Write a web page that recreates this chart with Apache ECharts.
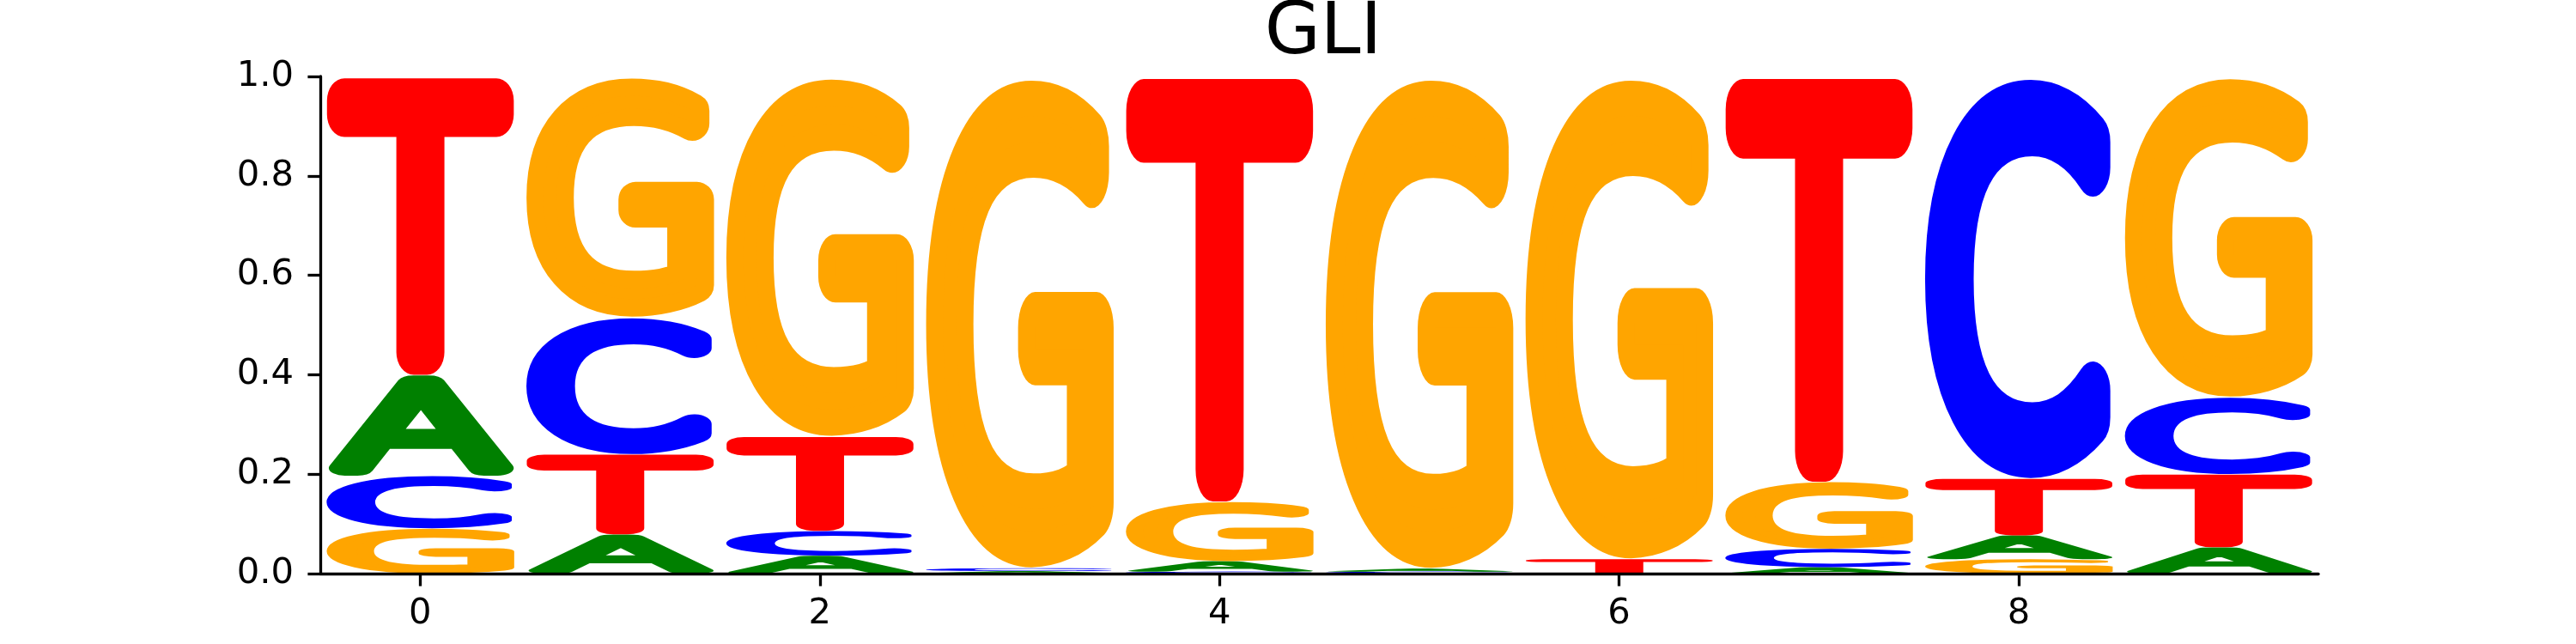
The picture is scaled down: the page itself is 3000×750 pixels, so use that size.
<!DOCTYPE html>
<html>
<head>
<meta charset="utf-8">
<title>GLI</title>
<script src="https://cdn.jsdelivr.net/npm/echarts@6.0.0/dist/echarts.min.js"></script>
<style>
    html, body { margin: 0; padding: 0; background: #fff; }
    #chart { width: 3000px; height: 750px; }
</style>
</head>
<body>
<div id="chart"></div>
<script>
// positions along the motif
var positions = [0, 1, 2, 3, 4, 5, 6, 7, 8, 9];
// letter probabilities per position
var probA = [0.203, 0.079, 0.036, 0.004, 0.021, 0.006, 0.000, 0.013, 0.048, 0.053];
var probC = [0.106, 0.276, 0.050, 0.006, 0.004, 0.003, 0.000, 0.037, 0.809, 0.155];
var probG = [0.091, 0.484, 0.724, 0.989, 0.120, 0.990, 0.971, 0.135, 0.029, 0.645];
var probT = [0.600, 0.161, 0.190, 0.001, 0.855, 0.001, 0.029, 0.815, 0.114, 0.147];
var xTicks = [0, 2, 4, 6, 8];

var letters = ['A', 'C', 'G', 'T'];
var colors = ['#008000', '#0000ff', '#ffa500', '#ff0000'];
var FONT_SIZE = 400;
var FONT = '200 ' + FONT_SIZE + 'px "DejaVu Sans"';
var EDGE = 0.13 * FONT_SIZE; // thick round-joined outline on a thin face

// ink box of every glyph (outline included), relative to a left / middle anchor
var cv = document.createElement('canvas');
var ctx = cv.getContext('2d');
ctx.font = FONT;
ctx.textAlign = 'left';
ctx.textBaseline = 'middle';
var metrics = letters.map(function (l) {
    var m = ctx.measureText(l);
    return {
        left: m.actualBoundingBoxLeft + EDGE / 2,
        asc: m.actualBoundingBoxAscent + EDGE / 2,
        w: m.actualBoundingBoxLeft + m.actualBoundingBoxRight + EDGE,
        h: m.actualBoundingBoxAscent + m.actualBoundingBoxDescent + EDGE
    };
});

// stack letters per position, smallest at the bottom
var probs = [probA, probC, probG, probT];
var stackData = [];
positions.forEach(function (p, i) {
    var order = [0, 1, 2, 3].sort(function (a, b) { return probs[a][i] - probs[b][i]; });
    var base = 0;
    order.forEach(function (li) {
        var v = probs[li][i];
        if (v > 0) stackData.push([p, base, base + v, li]);
        base += v;
    });
});

var option = {
    animation: false,
    title: {
        text: 'GLI',
        left: 1536,
        textAlign: 'center',
        top: -7,
        textStyle: { fontFamily: 'DejaVu Sans', fontWeight: 'normal', fontSize: 84, color: '#000' }
    },
    grid: { left: 373, right: 300, top: 89, bottom: 82 },
    xAxis: {
        type: 'value',
        min: -0.5,
        max: 9.5,
        z: 10,
        splitLine: { show: false },
        axisLine: { lineStyle: { color: '#000', width: 3.3 } },
        axisTick: { customValues: xTicks, length: 14.6, lineStyle: { color: '#000', width: 3.3 } },
        axisLabel: {
            customValues: xTicks,
            margin: 26,
            fontFamily: 'DejaVu Sans', fontSize: 41.7, color: '#000'
        }
    },
    yAxis: {
        type: 'value',
        min: 0,
        max: 1,
        interval: 0.2,
        z: 10,
        splitLine: { show: false },
        axisLine: { show: true, onZero: false, lineStyle: { color: '#000', width: 3.3 } },
        axisTick: { show: true, length: 14.6, lineStyle: { color: '#000', width: 3.3 } },
        axisLabel: {
            margin: 31,
            fontFamily: 'DejaVu Sans', fontSize: 41.7, color: '#000',
            formatter: function (v) { return v.toFixed(1); }
        }
    },
    series: [{
        type: 'custom',
        data: stackData,
        renderItem: function (params, api) {
            var p = api.value(0), y0 = api.value(1), y1 = api.value(2), li = api.value(3);
            var a = api.coord([p - 0.475, y1]);
            var b = api.coord([p + 0.475, y0]);
            var m = metrics[li];
            var w = b[0] - a[0], h = b[1] - a[1];
            if (h <= 0) return;
            return {
                type: 'text',
                x: a[0],
                y: a[1],
                scaleX: w / m.w,
                scaleY: h / m.h,
                silent: true,
                style: {
                    text: letters[li],
                    x: m.left,
                    y: m.asc,
                    font: FONT,
                    fill: colors[li],
                    stroke: colors[li],
                    lineWidth: EDGE,
                    align: 'left',
                    verticalAlign: 'middle'
                }
            };
        }
    }]
};

var chart = echarts.init(document.getElementById('chart'));
chart.setOption(option);

// text spans don't pass lineJoin on, so round it on their shared default style
var zr = chart.getZr();
var spans = zr.storage.getDisplayList(true).filter(function (el) {
    return el.style && typeof el.style.text === 'string' && el.style.stroke;
});
if (spans.length) {
    Object.getPrototypeOf(spans[0].style).lineJoin = 'round';
    chart.setOption(option, true);
}
</script>
</body>
</html>
